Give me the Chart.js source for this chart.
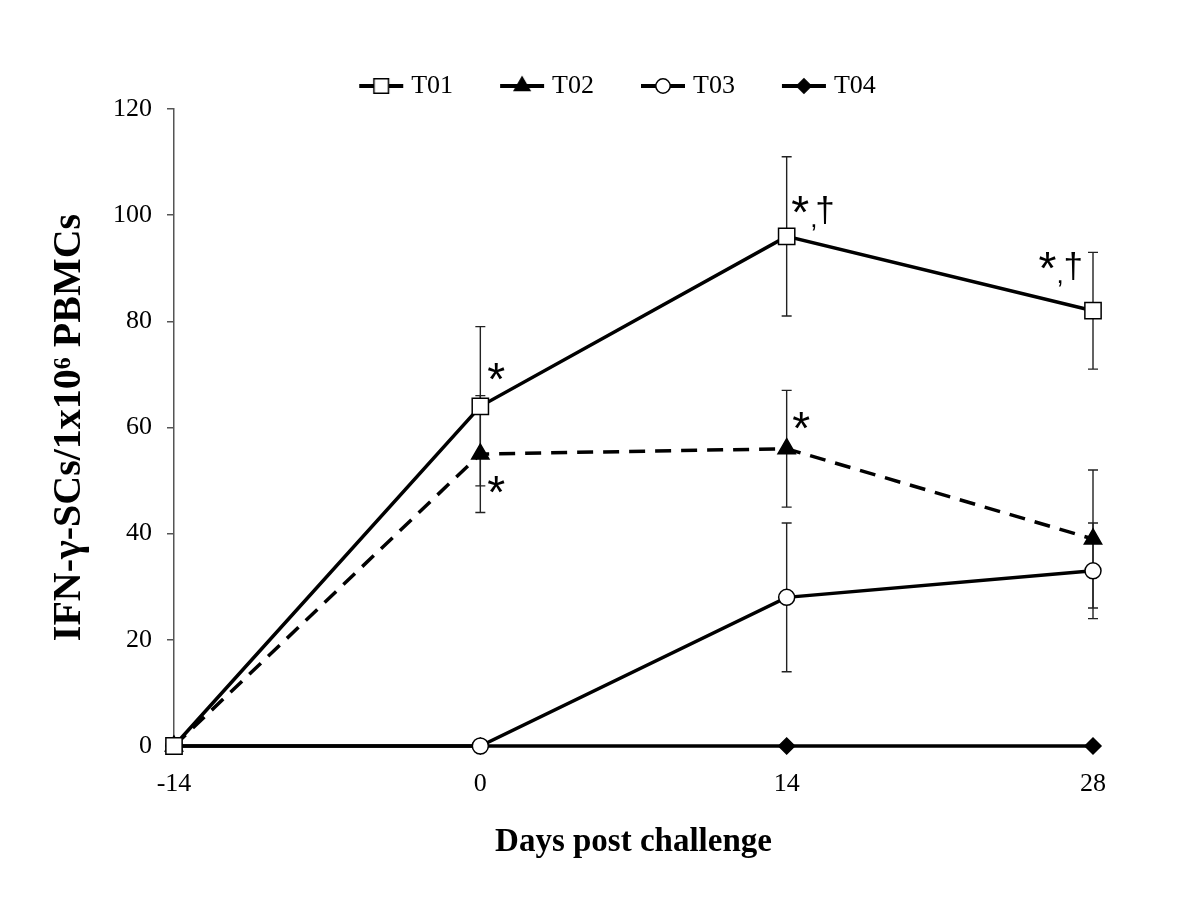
<!DOCTYPE html>
<html>
<head>
<meta charset="utf-8">
<script src="https://cdn.jsdelivr.net/npm/chart.js@4.4.1/dist/chart.umd.min.js"></script>
<style>
  html, body { margin: 0; padding: 0; background: #ffffff; }
  #wrap { width: 1200px; height: 900px; position: relative; }
</style>
</head>
<body>
<div id="wrap"><canvas id="c" width="1200" height="900"></canvas></div>
<script>
// ---- data ----
const days = [-14, 0, 14, 28];
const xTickLabels = [-14, 0, 14, 28];
const yTickValues = [0, 20, 40, 60, 80, 100, 120];
const seriesNames = ['T01', 'T02', 'T03', 'T04'];
const t01 = [0, 64, 96, 82];
const t01Err = [0, 15, 15, 11];
const t02 = [0, 55, 56, 39];
const t02Err = [0, 11, 11, 13];
const t03 = [0, 0, 28, 33];
const t03Err = [0, 0, 14, 9];
const t04 = [0, 0, 0, 0];
const t04Err = [0, 0, 0, 0];
const annotSeries = ['T01', 'T02', 'T02', 'T01', 'T01'];
const annotDays = [0, 0, 14, 14, 28];
const annotText = ['*', '*', '*', '*,†', '*,†'];
const xTitle = 'Days post challenge';
const yTitle = 'IFN-γ-SCs/1x10⁶ PBMCs';

// ---- styles ----
const serif = '"Liberation Serif", "Times New Roman", serif';
const sans = '"Liberation Sans", Arial, sans-serif';
const values = [t01, t02, t03, t04];
const errors = [t01Err, t02Err, t03Err, t04Err];
const styles = [
  { pointStyle: 'rect', radius: 11.5, fill: '#ffffff', dash: [] },
  { pointStyle: 'triangle', radius: 10, fill: '#000000', dash: [16, 10] },
  { pointStyle: 'circle', radius: 8, fill: '#ffffff', dash: [] },
  { pointStyle: 'rectRot', radius: 8, fill: '#000000', dash: [] }
];

function legendImage(st) {
  const cv = document.createElement('canvas');
  cv.width = 46; cv.height = 24;
  const ctx = cv.getContext('2d');
  ctx.strokeStyle = '#000'; ctx.lineWidth = 4;
  ctx.beginPath(); ctx.moveTo(1, 12); ctx.lineTo(45, 12); ctx.stroke();
  ctx.fillStyle = st.fill; ctx.strokeStyle = '#000'; ctx.lineWidth = 1.5;
  Chart.helpers.drawPoint(ctx, { pointStyle: st.pointStyle, radius: st.radius * 0.9, rotation: 0, borderWidth: 1.5 }, 23, 12);
  return cv;
}

const datasets = seriesNames.map((name, i) => ({
  label: name,
  data: days.map((d, k) => ({ x: d, y: values[i][k] })),
  borderColor: '#000000',
  borderWidth: 3.5,
  borderDash: styles[i].dash,
  pointStyle: styles[i].pointStyle,
  pointRadius: styles[i].radius,
  pointHoverRadius: styles[i].radius,
  pointBackgroundColor: styles[i].fill,
  pointBorderColor: '#000000',
  pointBorderWidth: 1.5,
  tension: 0,
  fill: false,
  clip: false
}));

const errorBarPlugin = {
  id: 'errorBars',
  beforeDatasetsDraw(chart) {
    const ctx = chart.ctx;
    const xs = chart.scales.x, ys = chart.scales.y;
    ctx.save();
    ctx.strokeStyle = '#222';
    ctx.lineWidth = 1.4;
    errors.forEach((errArr, i) => {
      errArr.forEach((e, k) => {
        if (!e) return;
        const px = xs.getPixelForValue(days[k]);
        const yTop = ys.getPixelForValue(values[i][k] + e);
        const yBot = ys.getPixelForValue(values[i][k] - e);
        ctx.beginPath();
        ctx.moveTo(px, yTop); ctx.lineTo(px, yBot);
        ctx.moveTo(px - 5, yTop); ctx.lineTo(px + 5, yTop);
        ctx.moveTo(px - 5, yBot); ctx.lineTo(px + 5, yBot);
        ctx.stroke();
      });
    });
    ctx.restore();
  }
};

// glyph placements relative to the data point (pixel offsets of glyph centres)
const annotLayout = [
  [{ g: '*', dx: 16, dy: -35 }],
  [{ g: '*', dx: 16, dy: 30 }],
  [{ g: '*', dx: 14.5, dy: -28.5 }],
  [{ g: '*', dx: 13.5, dy: -32 }, { g: ',', dx: 27, dy: -9 }, { g: '†', dx: 38.5, dy: -26 }],
  [{ g: '*', dx: -45.5, dy: -50 }, { g: ',', dx: -33, dy: -27 }, { g: '†', dx: -19.5, dy: -45 }]
];
const glyphFont = { '*': '46px ' + sans, ',': '26px ' + sans, '†': '35px ' + sans };

function drawCentered(ctx, text, cx, cy) {
  ctx.font = glyphFont[text];
  ctx.textAlign = 'left';
  ctx.textBaseline = 'alphabetic';
  const m = ctx.measureText(text);
  const w = m.actualBoundingBoxLeft + m.actualBoundingBoxRight;
  const h = m.actualBoundingBoxAscent + m.actualBoundingBoxDescent;
  const x = cx - w / 2 + m.actualBoundingBoxLeft;
  const y = cy - h / 2 + m.actualBoundingBoxAscent;
  ctx.fillText(text, x, y);
}

const annotPlugin = {
  id: 'annots',
  afterDatasetsDraw(chart) {
    const ctx = chart.ctx;
    const xs = chart.scales.x, ys = chart.scales.y;
    ctx.save();
    ctx.fillStyle = '#000';
    annotText.forEach((t, a) => {
      const si = seriesNames.indexOf(annotSeries[a]);
      const k = days.indexOf(annotDays[a]);
      const px = xs.getPixelForValue(days[k]);
      const py = ys.getPixelForValue(values[si][k]);
      annotLayout[a].forEach(p => drawCentered(ctx, p.g, px + p.dx, py + p.dy));
    });
    ctx.restore();
  }
};

new Chart(document.getElementById('c'), {
  type: 'line',
  data: { datasets },
  plugins: [errorBarPlugin, annotPlugin],
  options: {
    responsive: false,
    animation: false,
    devicePixelRatio: 1,
    layout: { padding: { left: 40, right: 0, top: 21, bottom: 0 } },
    plugins: {
      tooltip: { enabled: false },
      legend: {
        display: true,
        position: 'top',
        labels: {
          usePointStyle: true,
          pointStyleWidth: 34,
          padding: 52,
          color: '#000',
          font: { family: serif, size: 26 },
          generateLabels(chart) {
            return seriesNames.map((n, i) => ({
              text: n,
              pointStyle: legendImage(styles[i]),
              fillStyle: '#000', strokeStyle: '#000', lineWidth: 0,
              hidden: false, datasetIndex: i, fontColor: '#000'
            }));
          }
        }
      }
    },
    scales: {
      x: {
        type: 'linear',
        min: days[0],
        max: days[days.length - 1],
        afterBuildTicks(scale) { scale.ticks = xTickLabels.map(v => ({ value: v })); },
        afterFit(scale) { scale.height = 154; },
        grid: { display: false, drawTicks: false },
        border: { display: true, color: '#000', width: 2 },
        ticks: { color: '#000', padding: 23, font: { family: serif, size: 26 }, maxRotation: 0 },
        title: { display: true, text: xTitle, color: '#000', font: { family: serif, size: 33, weight: 'bold' }, padding: { top: 0, bottom: 38 } }
      },
      y: {
        type: 'linear',
        position: 'left',
        min: 0,
        max: 120,
        afterBuildTicks(scale) { scale.ticks = yTickValues.map(v => ({ value: v })); },
        afterFit(scale) { scale.width = 134; },
        grid: { display: true, drawOnChartArea: false, drawTicks: true, tickLength: 7, color: '#555', lineWidth: 1.5 },
        border: { display: true, color: '#555', width: 1.5 },
        ticks: { color: '#000', padding: 15, font: { family: serif, size: 26 } },
        title: { display: true, text: yTitle, color: '#000', font: { family: serif, size: 40, weight: 'bold' }, padding: { top: 6, bottom: 0 } }
      },
      y2: {
        type: 'linear',
        position: 'right',
        display: true,
        min: 0,
        max: 120,
        afterFit(scale) { scale.width = 107; },
        grid: { display: false, drawTicks: false },
        border: { display: false },
        ticks: { display: false }
      }
    }
  }
});
</script>
</body>
</html>
